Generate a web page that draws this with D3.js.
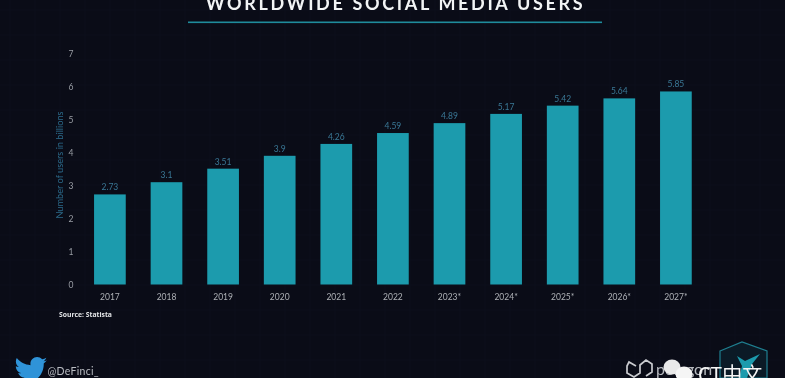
<!DOCTYPE html>
<html><head><meta charset="utf-8">
<script src="https://cdn.jsdelivr.net/npm/d3@7"></script>
<style>html,body{margin:0;padding:0;background:#0a0c17;overflow:hidden}svg{display:block}text{font-family:Lato,"Open Sans",sans-serif}</style>
</head><body><svg id="c" width="785" height="378"></svg>
<script>
const years = ["2017","2018","2019","2020","2021","2022","2023*","2024*","2025*","2026*","2027*"];
const users = [2.73,3.1,3.51,3.9,4.26,4.59,4.89,5.17,5.42,5.64,5.85];
const valueLabels = ["2.73","3.1","3.51","3.9","4.26","4.59","4.89","5.17","5.42","5.64","5.85"];
const yTicks = [0,1,2,3,4,5,6,7];
const title = "WORLDWIDE SOCIAL MEDIA USERS";
const yTitle = "Number of users in billions";
const source = "Source: Statista";
const handle = "@DeFinci_";

const svg = d3.select("#c");
const x = d3.scaleBand().domain(years).range([81.6,704.2]).paddingInner(0.44).paddingOuter(0.22);
const y = d3.scaleLinear().domain([0,7]).range([284.5,53.5]);

// very faint background grid
const g0 = svg.append("g").attr("stroke","#0f1220").attr("stroke-width",0.6);
d3.range(10,785,25).forEach(v=>g0.append("line").attr("x1",v).attr("x2",v).attr("y1",0).attr("y2",378));
d3.range(10,378,25).forEach(v=>g0.append("line").attr("y1",v).attr("y2",v).attr("x1",0).attr("x2",785));

const root = svg.append("g").style("filter","blur(0.45px)");

root.append("text").attr("x",395.5).attr("y",10).attr("text-anchor","middle")
  .attr("fill","#f2f4f5").attr("font-size",18).attr("font-weight",700).attr("letter-spacing",2.65).text(title);
root.append("rect").attr("x",188).attr("y",21.5).attr("width",414).attr("height",1.6).attr("fill","#1f8c9c");

root.selectAll("rect.bar").data(users).join("rect").attr("class","bar")
  .attr("x",(d,i)=>x(years[i])).attr("width",x.bandwidth())
  .attr("y",d=>y(d)).attr("height",d=>y(0)-y(d)).attr("fill","#1c9bad");

root.selectAll("text.val").data(users).join("text").attr("class","val")
  .attr("x",(d,i)=>x(years[i])+x.bandwidth()/2).attr("y",d=>y(d)-4)
  .attr("text-anchor","middle").attr("font-size",8.5).attr("fill","#3a7896")
  .text((d,i)=>valueLabels[i]);

const ax = root.append("g").attr("transform","translate(73.5,0)")
  .call(d3.axisLeft(y).tickValues(yTicks).tickSize(0).tickPadding(0).tickFormat(d3.format("d")));
ax.select(".domain").remove();
ax.selectAll("text").attr("fill","#9a9ea5").attr("font-size",8.5).style("font-family","Lato,sans-serif");

const bx = root.append("g").attr("transform","translate(0,294)")
  .call(d3.axisBottom(x).tickSize(0).tickPadding(0));
bx.select(".domain").remove();
bx.selectAll("text").attr("fill","#aeb1b6").attr("font-size",8.5).attr("dy","0.7em").style("font-family","Lato,sans-serif");

root.append("text").attr("transform","translate(62.5,165) rotate(-90)").attr("text-anchor","middle")
  .attr("font-size",9.2).attr("fill","#2b6a8a").text(yTitle);
root.append("text").attr("x",59).attr("y",317).attr("font-size",6.8).attr("font-weight",700)
  .style("font-family",'"Open Sans",sans-serif').attr("fill","#e4e6e8").text(source);

// twitter bird
root.append("path").attr("transform","translate(14.5,354) scale(1.36)").attr("fill","#2f93d8")
  .attr("d","M24 4.6c-.9.4-1.8.7-2.8.8 1-.6 1.8-1.6 2.2-2.7-1 .6-2 1-3.1 1.2C19.3 2.8 18 2.2 16.6 2.2c-2.7 0-4.9 2.2-4.9 4.9 0 .4 0 .8.1 1.1C7.7 8 4.1 6 1.7 3c-.4.7-.7 1.6-.7 2.5 0 1.7.9 3.2 2.2 4.1-.8 0-1.6-.2-2.2-.6v.1c0 2.4 1.7 4.4 3.9 4.8-.4.1-.8.2-1.3.2-.3 0-.6 0-.9-.1.6 2 2.4 3.4 4.6 3.4-1.7 1.3-3.8 2.1-6.1 2.1-.4 0-.8 0-1.2-.1 2.2 1.4 4.8 2.2 7.5 2.2 9.1 0 14-7.5 14-14v-.6c1-.7 1.8-1.6 2.5-2.5z");
root.append("text").attr("x",47.5).attr("y",375).attr("font-size",10.5).attr("fill","#b9bcc2").attr("letter-spacing",0.3).text(handle);

// hexagon logo
root.append("path").attr("d","M720 351 L742 342 L767 351 L767 378 L720 378 Z").attr("fill","#0b1a26").attr("stroke","#1f7f90").attr("stroke-width",1.2);
root.append("path").attr("d","M737 356 L745 361 L760 354 L752 364 L747 378 L739 378 L742 366 Z").attr("fill","#1c9bad");

// chain logo
root.append("path").attr("d","M636 366 L629 362 L627 366 L627 373 L634 377 L640 373 L640 365 L646 360 L652 364 L652 372 L646 376")
  .attr("fill","none").attr("stroke","#c9cbcf").attr("stroke-width",1.7);
root.append("text").attr("x",656).attr("y",375).attr("font-size",16).attr("fill","#b8bbc0").text("polygon");

// watermark
root.append("ellipse").attr("cx",672).attr("cy",367).attr("rx",8.5).attr("ry",7.5).attr("fill","#e9e9e9");
root.append("ellipse").attr("cx",684).attr("cy",374).attr("rx",8.5).attr("ry",7.5).attr("fill","#f5f5f5");
root.append("text").attr("x",698).attr("y",382).attr("font-size",20).attr("fill","#f5f5f5")
  .style("font-family",'"Noto Sans CJK SC",sans-serif').text("CT中文");
</script></body></html>
